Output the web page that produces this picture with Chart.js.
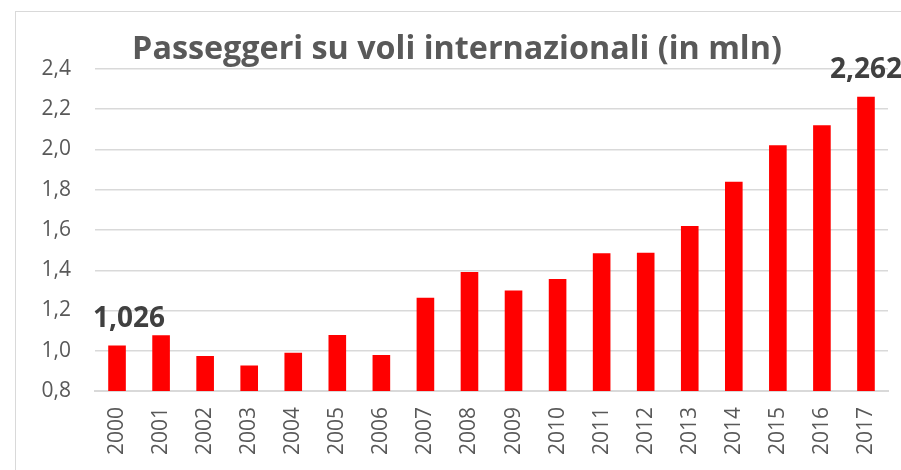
<!DOCTYPE html>
<html>
<head>
<meta charset="utf-8">
<script src="https://cdn.jsdelivr.net/npm/chart.js@4.4.1/dist/chart.umd.min.js"></script>
<style>
  html, body { margin: 0; padding: 0; background: #ffffff; }
  #wrap { position: relative; width: 901px; height: 470px; overflow: hidden; }
  #frame { position: absolute; left: 15px; top: 11px; width: 1000px; height: 600px;
           border-left: 1px solid #d9d9d9; border-top: 1px solid #d9d9d9; box-sizing: border-box; }
  canvas { position: absolute; left: 0; top: 0; }
</style>
</head>
<body>
<div id="wrap">
  <div id="frame"></div>
  <canvas id="c" width="901" height="470"></canvas>
</div>
<script>
const titleText = "Passeggeri su voli internazionali (in mln)";
const years = ["2000","2001","2002","2003","2004","2005","2006","2007","2008","2009",
               "2010","2011","2012","2013","2014","2015","2016","2017"];
const passengers = [1.026, 1.077, 0.974, 0.927, 0.990, 1.078, 0.979, 1.263, 1.391, 1.300,
                    1.356, 1.484, 1.487, 1.620, 1.840, 2.021, 2.121, 2.262];
const labelledIndexes = [0, 17];

const fmt = v => v.toFixed(3).replace('.', ',');
const fmtTick = v => v.toFixed(1).replace('.', ',');

const overlay = {
  id: 'overlay',
  afterDraw(chart) {
    const ctx = chart.ctx;
    ctx.save();
    // title
    let size = 34;
    ctx.font = 'bold ' + size + 'px "Open Sans"';
    let w = ctx.measureText(titleText).width;
    if (w > 650) { size = size * 650 / w; ctx.font = 'bold ' + size + 'px "Open Sans"'; }
    ctx.fillStyle = '#595959';
    ctx.textAlign = 'center';
    ctx.textBaseline = 'alphabetic';
    ctx.fillText(titleText, 457, 59);
    // data labels
    const meta = chart.getDatasetMeta(0);
    ctx.font = 'bold 28px "Open Sans"';
    ctx.fillStyle = '#404040';
    labelledIndexes.forEach(i => {
      const bar = meta.data[i];
      const dx = i === 0 ? 12 : 0;
      ctx.fillText(fmt(passengers[i]), bar.x + dx, bar.y - 19);
    });
    ctx.restore();
  }
};

new Chart(document.getElementById('c'), {
  type: 'bar',
  data: {
    labels: years,
    datasets: [{
      data: passengers,
      backgroundColor: '#ff0000',
      borderWidth: 0,
      categoryPercentage: 1.0,
      barPercentage: 0.4
    }]
  },
  options: {
    responsive: false,
    animation: false,
    devicePixelRatio: 1,
    layout: { padding: { left: 0, right: 13, top: 69, bottom: 0 } },
    plugins: { legend: { display: false }, tooltip: { enabled: false }, title: { display: false } },
    scales: {
      x: {
        grid: { display: false, drawTicks: false },
        border: { display: true, color: '#d9d9d9', width: 2 },
        ticks: {
          minRotation: 90, maxRotation: 90, padding: 16,
          color: '#595959', font: { family: '"Open Sans"', size: 21 }
        },
        afterFit(scale) { scale.height = 79; scale.paddingLeft = 0; scale.paddingRight = 0; }
      },
      y: {
        min: 0.8, max: 2.4,
        grid: { color: '#d9d9d9', lineWidth: 1.5, drawTicks: false },
        border: { display: false },
        ticks: {
          stepSize: 0.2, padding: 24, color: '#595959',
          font: { family: '"Open Sans"', size: 21 },
          callback: v => fmtTick(v)
        },
        afterFit(scale) { scale.width = 95; scale.paddingTop = 0; scale.paddingBottom = 0; }
      }
    }
  },
  plugins: [overlay]
});
</script>
</body>
</html>
